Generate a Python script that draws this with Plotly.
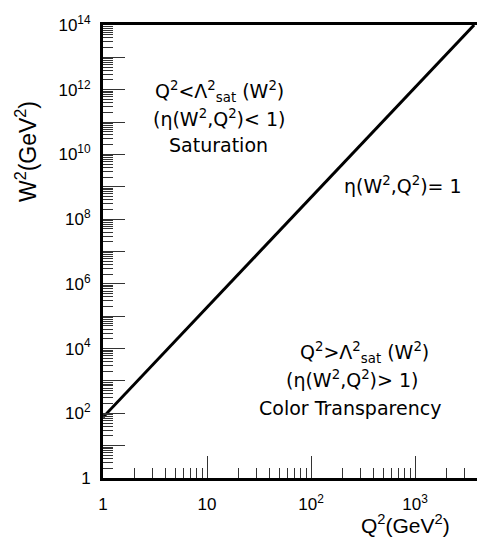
import plotly.graph_objects as go

# Data
q2_line = [1, 3700]
w2_line = [75, 1e14]

x_major_vals = [1, 10, 100, 1000]
x_major_text = ["1", "10", "10<sup>2</sup>", "10<sup>3</sup>"]
x_minor_vals = [m * 10 ** d for d in range(0, 4) for m in range(2, 10) if m * 10 ** d < 4000]

y_major_vals = [10 ** k for k in range(0, 15)]
y_major_text = ["1" if k == 0 else (f"10<sup>{k}</sup>" if k % 2 == 0 else "") for k in range(0, 15)]
y_minor_vals = [m * 10 ** d for d in range(0, 14) for m in range(2, 10)]

W, H = 477, 537
L, R, T, B = 103, 0, 25, 59
PW, PH = W - L - R, H - T - B


def px(x):
    return (x - L) / PW


def py(y):
    return (H - B - y) / PH


fig = go.Figure()
fig.add_trace(go.Scatter(x=q2_line, y=w2_line, mode="lines",
                         line=dict(color="black", width=3), showlegend=False,
                         hoverinfo="skip"))
fig.add_trace(go.Scatter(x=q2_line, y=w2_line, xaxis="x2", yaxis="y2", mode="lines",
                         line=dict(color="rgba(0,0,0,0)", width=0), showlegend=False,
                         hoverinfo="skip"))

xr = [0, 3.596]
yr = [0, 14]
tickfont = dict(family="Liberation Sans", size=17, color="black")

fig.update_layout(
    width=W, height=H,
    margin=dict(l=L, r=R, t=T, b=B),
    paper_bgcolor="white", plot_bgcolor="white",
    xaxis=dict(type="log", range=xr, showgrid=False, zeroline=False,
               showline=True, linewidth=3, linecolor="black", mirror=True,
               ticks="inside", ticklen=22, tickwidth=1, tickcolor="#333",
               tickvals=x_major_vals, ticktext=x_major_text, tickfont=tickfont,
               ticklabelstandoff=9),
    yaxis=dict(type="log", range=yr, showgrid=False, zeroline=False,
               showline=True, linewidth=3, linecolor="black",
               ticks="inside", ticklen=22, tickwidth=1, tickcolor="#333",
               tickvals=y_major_vals, ticktext=y_major_text, tickfont=tickfont,
               ticklabelstandoff=6),
    xaxis2=dict(type="log", range=xr, overlaying="x", anchor="y", side="bottom",
                showgrid=False, zeroline=False, showline=False,
                ticks="inside", ticklen=10, tickwidth=1, tickcolor="#333",
                tickvals=x_minor_vals, showticklabels=False),
    yaxis2=dict(type="log", range=yr, overlaying="y", anchor="x", side="left",
                showgrid=False, zeroline=False, showline=False,
                ticks="inside", ticklen=10, tickwidth=1, tickcolor="#333",
                tickvals=y_minor_vals, showticklabels=False),
)

afont = dict(family="DejaVu Sans", size=19, color="black")


def ann(text, x, y, xanchor="left", font=afont, angle=0):
    fig.add_annotation(text=text, xref="paper", yref="paper", x=px(x), y=py(y),
                       xanchor=xanchor, yanchor="middle", showarrow=False,
                       font=font, textangle=angle)


ann("Q<sup>2</sup><Λ<sup>2</sup><sub>sat</sub> (W<sup>2</sup>)", 153, 92)
ann("(η(W<sup>2</sup>,Q<sup>2</sup>)< 1)", 151, 118)
ann("Saturation", 167, 145)
ann("η(W<sup>2</sup>,Q<sup>2</sup>)= 1", 342, 185)
ann("Q<sup>2</sup>>Λ<sup>2</sup><sub>sat</sub> (W<sup>2</sup>)", 298, 353)
ann("(η(W<sup>2</sup>,Q<sup>2</sup>)> 1)", 284, 379)
ann("Color Transparency", 257, 408)

tfont = dict(family="Liberation Sans", size=21, color="black")
ann("Q<sup>2</sup>(GeV<sup>2</sup>)", 405, 524, xanchor="center", font=tfont)
ann("W<sup>2</sup>(GeV<sup>2</sup>)", 26, 152, xanchor="center",
    font=dict(family="Liberation Sans", size=23, color="black"), angle=-90)

fig.write_html("out.html", config={"displayModeBar": False},
               post_script="document.body.style.margin='0';")
